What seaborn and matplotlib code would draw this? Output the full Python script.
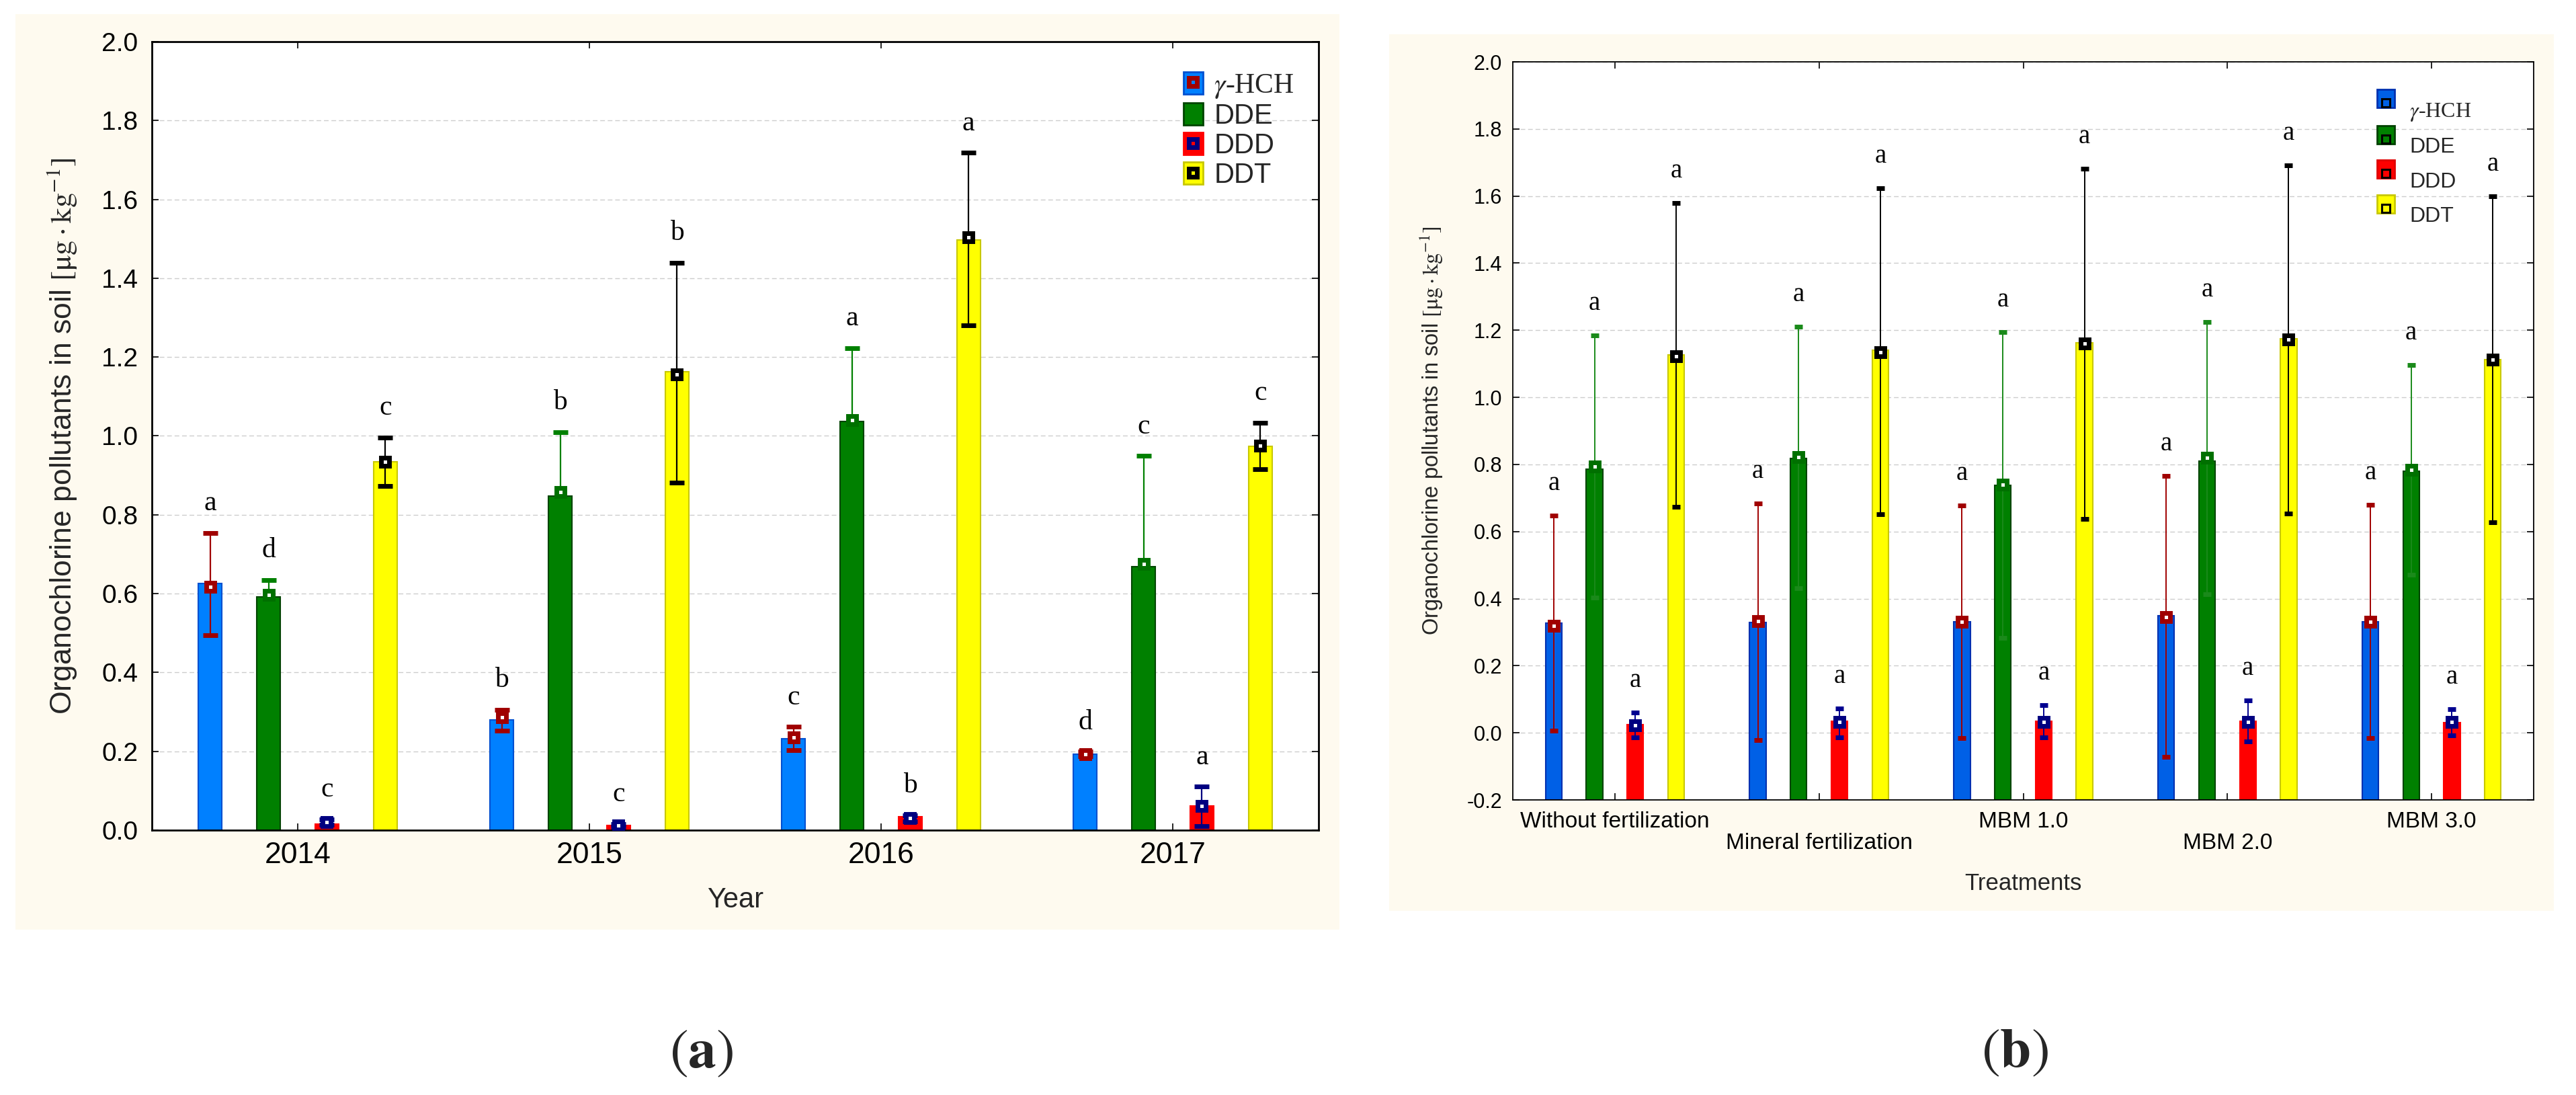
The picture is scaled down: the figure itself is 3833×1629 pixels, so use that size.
import numpy as np
import pandas as pd
import matplotlib
matplotlib.use("Agg")
import matplotlib.pyplot as plt
import seaborn as sns
from matplotlib.patches import Rectangle, Patch
from matplotlib.lines import Line2D
from matplotlib.legend_handler import HandlerTuple
from matplotlib.container import BarContainer

# ---------------- data ----------------
compounds = ["γ-HCH", "DDE", "DDD", "DDT"]
legend_labels = [r"$\gamma$-HCH", "DDE", "DDD", "DDT"]

# panel (a): years
years = ["2014", "2015", "2016", "2017"]
a_hch_bar = [0.625, 0.279, 0.232, 0.193]
a_hch_mean = [0.617, 0.286, 0.235, 0.193]
a_hch_low = [0.495, 0.253, 0.203, 0.187]
a_hch_high = [0.754, 0.305, 0.262, 0.199]
a_hch_letter = ["a", "b", "c", "d"]
a_dde_bar = [0.591, 0.848, 1.037, 0.669]
a_dde_mean = [0.597, 0.858, 1.040, 0.675]
a_dde_low = [0.559, 0.706, 0.857, 0.401]
a_dde_high = [0.635, 1.010, 1.223, 0.949]
a_dde_letter = ["d", "b", "a", "c"]
a_ddd_bar = [0.015, 0.012, 0.034, 0.061]
a_ddd_mean = [0.021, 0.012, 0.030, 0.061]
a_ddd_low = [0.014, 0.008, 0.022, 0.011]
a_ddd_high = [0.028, 0.016, 0.038, 0.110]
a_ddd_letter = ["c", "c", "b", "a"]
a_ddt_bar = [0.935, 1.162, 1.497, 0.973]
a_ddt_mean = [0.935, 1.156, 1.503, 0.975]
a_ddt_low = [0.873, 0.882, 1.280, 0.915]
a_ddt_high = [0.996, 1.439, 1.718, 1.033]
a_ddt_letter = ["c", "b", "a", "c"]

# panel (b): treatments
treatments = ["Without fertilization", "Mineral fertilization", "MBM 1.0", "MBM 2.0", "MBM 3.0"]
b_hch_bar = [0.326, 0.329, 0.331, 0.349, 0.331]
b_hch_mean = [0.318, 0.333, 0.331, 0.345, 0.331]
b_hch_low = [0.006, -0.021, -0.016, -0.072, -0.016]
b_hch_high = [0.648, 0.683, 0.678, 0.766, 0.680]
b_dde_bar = [0.785, 0.818, 0.737, 0.810, 0.780]
b_dde_mean = [0.794, 0.821, 0.739, 0.819, 0.784]
b_dde_low = [0.404, 0.431, 0.283, 0.413, 0.471]
b_dde_high = [1.184, 1.211, 1.195, 1.225, 1.097]
b_ddd_bar = [0.025, 0.034, 0.034, 0.034, 0.030]
b_ddd_mean = [0.023, 0.032, 0.032, 0.032, 0.032]
b_ddd_low = [-0.013, -0.013, -0.013, -0.025, -0.007]
b_ddd_high = [0.060, 0.073, 0.082, 0.097, 0.070]
b_ddt_bar = [1.127, 1.140, 1.163, 1.175, 1.113]
b_ddt_mean = [1.123, 1.134, 1.161, 1.172, 1.113]
b_ddt_low = [0.674, 0.651, 0.637, 0.653, 0.628]
b_ddt_high = [1.580, 1.624, 1.682, 1.691, 1.599]
b_letters = ["a", "a", "a", "a", "a"]

a_yticks = [0.0, 0.2, 0.4, 0.6, 0.8, 1.0, 1.2, 1.4, 1.6, 1.8, 2.0]
b_yticks = [-0.2, 0.0, 0.2, 0.4, 0.6, 0.8, 1.0, 1.2, 1.4, 1.6, 1.8, 2.0]

# ---------------- style ----------------
sns.set_theme(style="white")
plt.rcParams["font.family"] = ["Liberation Sans", "DejaVu Sans"]
plt.rcParams["mathtext.fontset"] = "stix"
SERIF = ["Liberation Serif", "DejaVu Serif"]
CREAM = "#FEFAEF"

W, H = 3833, 1629
fig = plt.figure(figsize=(W / 100, H / 100), dpi=100)
fig.patch.set_facecolor("white")
fig.patches.append(Rectangle((23 / W, 1 - 1383 / H), 1970 / W, 1362 / H,
                             transform=fig.transFigure, facecolor=CREAM,
                             edgecolor="none", zorder=-10))
fig.patches.append(Rectangle((2067 / W, 1 - 1355 / H), 1733 / W, 1304 / H,
                             transform=fig.transFigure, facecolor=CREAM,
                             edgecolor="none", zorder=-10))

ax_a = fig.add_axes([226 / W, 1 - 1235 / H, (1962 - 226) / W, (1235 - 62) / H])
ax_b = fig.add_axes([2251 / W, 1 - 1190 / H, (3770 - 2251) / W, (1190 - 92) / H])


class ShiftedTuple(HandlerTuple):
    def __init__(self, shift=0.0, **kw):
        super().__init__(**kw)
        self.shift = shift

    def create_artists(self, legend, orig_handle, xdescent, ydescent, width,
                       height, fontsize, trans):
        return super().create_artists(legend, orig_handle, xdescent,
                                      ydescent - self.shift * fontsize,
                                      width, height, fontsize, trans)


def draw_panel(ax, cats, bars, means, lows, highs, letters, cfg):
    df = pd.DataFrame({
        "cat": cats * len(compounds),
        "compound": np.repeat(compounds, len(cats)),
        "value": np.concatenate(bars),
    })
    sns.barplot(data=df, x="cat", y="value", hue="compound", order=cats,
                hue_order=compounds, palette=dict(zip(compounds, cfg["colors"])),
                width=0.8, gap=0.6, errorbar=None, saturation=1, legend=False,
                ax=ax, zorder=2)
    ymin, ymax = cfg["ylim"]
    bar_conts = [c for c in ax.containers if isinstance(c, BarContainer)]
    for i, cont in enumerate(bar_conts):
        xs = []
        for p in cont.patches:
            if ymin < 0:
                h = p.get_height()
                p.set_y(ymin)
                p.set_height(h - ymin)
            p.set_edgecolor(cfg["edges"][i])
            p.set_linewidth(cfg["bar_lw"])
            xs.append(p.get_x() + p.get_width() / 2)
        xs = np.array(xs)
        m = np.array(means[i]); lo = np.array(lows[i]); hi = np.array(highs[i])
        ax.errorbar(xs, m, yerr=[m - lo, hi - m], fmt="s", ms=8.5, mew=5,
                    mfc="white", mec=cfg["mcolors"][i], ecolor=cfg["ecolors"][i],
                    elinewidth=cfg["elw"], capsize=cfg["capsize"],
                    capthick=cfg["elw"] * 0.8, zorder=4)
        for x, h, L in zip(xs, hi, letters[i]):
            ax.text(x, h + cfg["loff"], L, ha="center", va="center",
                    family=SERIF, fontsize=cfg["lfs"], color="black", zorder=5)

    ax.set_xlim(-0.5, len(cats) - 0.5)
    ax.set_ylim(ymin, ymax)
    ax.set_yticks(cfg["yticks"])
    ax.set_yticklabels([f"{v:.1f}" for v in cfg["yticks"]])
    ax.set_axisbelow(True)
    ax.yaxis.grid(True, color="#CDCDCD", linestyle=(0, (5, 3)), linewidth=1.0)
    ax.xaxis.grid(False)
    ax.set_facecolor("white")
    for s in ax.spines.values():
        s.set_visible(True)
        s.set_color("black")
        s.set_linewidth(cfg["spine_lw"])
    ax.tick_params(axis="both", direction="in", length=7, width=1.2,
                   top=True, right=True, bottom=True, left=True, colors="black")
    ax.tick_params(axis="x", labelsize=cfg["xtfs"], pad=cfg["xpad"])
    ax.tick_params(axis="y", labelsize=cfg["ytfs"], pad=cfg["ypad"])

    handles = []
    for i in range(len(compounds)):
        patch = Patch(facecolor=cfg["colors"][i], edgecolor=cfg["hedges"][i],
                      linewidth=2)
        if cfg["lmark"][i] is None:
            handles.append((patch,))
        else:
            mk = Line2D([], [], marker="s", ls="none", ms=cfg["lms"],
                        mew=cfg["lmew"], mec=cfg["lmark"][i],
                        mfc=cfg["colors"][i])
            handles.append((patch, mk))
    leg = ax.legend(handles, legend_labels, loc="upper left",
                    bbox_to_anchor=cfg["lpos"], frameon=False,
                    fontsize=cfg["legfs"], handlelength=cfg["hlen"],
                    handleheight=cfg["hh"], handletextpad=cfg["htp"],
                    labelspacing=cfg["lsp"], borderpad=0, borderaxespad=0,
                    handler_map={tuple: ShiftedTuple(shift=cfg["hshift"])})
    leg.get_texts()[0].set_fontfamily(SERIF)
    return ax


ylab = r"Organochlorine pollutants in soil $[\mathrm{\mu g\cdot kg}^{-1}]$"

# ---------------- panel (a) ----------------
cfg_a = dict(
    colors=["#0080FF", "#008000", "#FF0000", "#FFFF00"],
    edges=["#0050D0", "#004400", "#FF0000", "#C8C800"],
    hedges=["#0050D0", "#004400", "#FF0000", "#C8C800"],
    mcolors=["#A00000", "#007000", "#000080", "#000000"],
    ecolors=["#A00000", "#008000", "#000080", "#000000"],
    lmark=["#A00000", None, "#000080", "#000000"],
    lms=8, lmew=5,
    bar_lw=1.5, elw=1.6, capsize=8, loff=0.075, lfs=30,
    ylim=(0.0, 2.0), yticks=a_yticks, spine_lw=2.0,
    xtfs=32, xpad=12, ytfs=28, ypad=15,
    lpos=(0.884, 0.962), legfs=30, hlen=0.7, hh=0.85, htp=0.4, lsp=0.1,
    hshift=0.0,
)
draw_panel(ax_a, years,
           [a_hch_bar, a_dde_bar, a_ddd_bar, a_ddt_bar],
           [a_hch_mean, a_dde_mean, a_ddd_mean, a_ddt_mean],
           [a_hch_low, a_dde_low, a_ddd_low, a_ddt_low],
           [a_hch_high, a_dde_high, a_ddd_high, a_ddt_high],
           [a_hch_letter, a_dde_letter, a_ddd_letter, a_ddt_letter], cfg_a)
ax_a.set_xlabel("Year", fontsize=30)
ax_a.set_ylabel(ylab, fontsize=32)
ax_a.xaxis.set_label_coords(0.5, -0.072)
ax_a.yaxis.set_label_coords(-0.063, 0.5)

# ---------------- panel (b) ----------------
cfg_b = dict(
    colors=["#0060E6", "#008000", "#FF0000", "#FFFF00"],
    edges=["#0030B0", "#004400", "#FF0000", "#C8C800"],
    hedges=["#0030B0", "#004000", "#E00000", "#C8C800"],
    mcolors=["#A00000", "#007000", "#000080", "#000000"],
    ecolors=["#A00000", "#1A8A1A", "#000090", "#000000"],
    lmark=["#000000", "#000000", "#000000", "#000000"],
    lms=8.6, lmew=2.2,
    bar_lw=1.5, elw=1.4, capsize=4.5, loff=0.095, lfs=28,
    ylim=(-0.2, 2.0), yticks=b_yticks, spine_lw=1.3,
    xtfs=24, xpad=12, ytfs=22, ypad=11.5,
    lpos=(0.8466, 0.948), legfs=23, hlen=0.81, hh=0.94, htp=0.69, lsp=0.62,
    hshift=0.5,
)
draw_panel(ax_b, treatments,
           [b_hch_bar, b_dde_bar, b_ddd_bar, b_ddt_bar],
           [b_hch_mean, b_dde_mean, b_ddd_mean, b_ddt_mean],
           [b_hch_low, b_dde_low, b_ddd_low, b_ddt_low],
           [b_hch_high, b_dde_high, b_ddd_high, b_ddt_high],
           [b_letters] * 4, cfg_b)
ax_b.set_xticks(range(len(treatments)))
ax_b.set_xticklabels([("\n" + t) if i % 2 else t for i, t in enumerate(treatments)],
                     fontsize=24, linespacing=1.05)
ax_b.set_xlabel("Treatments", fontsize=25)
ax_b.set_ylabel(ylab, fontsize=23.5)
ax_b.xaxis.set_label_coords(0.5, -0.098)
ax_b.yaxis.set_label_coords(-0.0665, 0.5)

# ---------------- panel tags ----------------
fig.text(1044 / W, 1 - 1566 / H, r"$(\mathbf{a})$", fontsize=60,
         ha="center", va="center")
fig.text(2998 / W, 1 - 1565 / H, r"$(\mathbf{b})$", fontsize=60,
         ha="center", va="center")

fig.savefig("out.png", dpi=100, facecolor="white")
